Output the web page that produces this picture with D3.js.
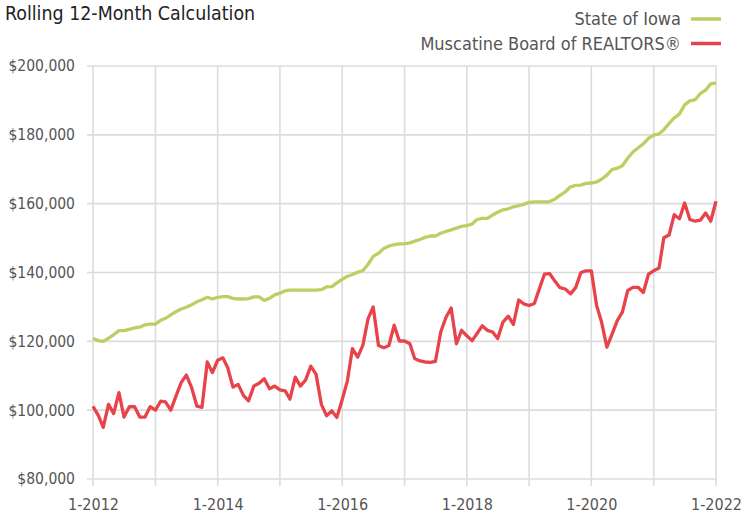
<!DOCTYPE html>
<html>
<head>
<meta charset="utf-8">
<script src="https://cdn.jsdelivr.net/npm/d3@7"></script>
<style>
  body { margin: 0; background: #fff; }
  svg text { font-family: "Liberation Sans Narrow", "Arial Narrow", "DejaVu Sans Condensed", sans-serif; font-stretch: condensed; }
</style>
</head>
<body>
<div id="chart"></div>
<script>
// monthly rolling 12-month values, 1-2012 .. 1-2022 (thousands of dollars)
const iowa = [
  120.8, 120.2, 120.0, 120.9, 121.9, 123.1, 123.1, 123.5, 123.9, 124.1, 124.8, 125.0,
  125.0, 126.1, 126.7, 127.7, 128.6, 129.4, 129.9, 130.6, 131.5, 132.1, 132.8, 132.3,
  132.8, 133.0, 133.0, 132.5, 132.3, 132.3, 132.4, 132.9, 132.9, 131.9, 132.5, 133.5,
  134.0, 134.7, 134.9, 134.9, 134.9, 134.9, 134.9, 134.9, 135.0, 135.8, 135.9, 137.0,
  138.0, 138.9, 139.4, 140.1, 140.5, 142.4, 144.7, 145.6, 147.0, 147.7, 148.1, 148.3,
  148.3, 148.6, 149.1, 149.6, 150.2, 150.6, 150.6, 151.4, 151.9, 152.4, 152.9, 153.4,
  153.6, 154.1, 155.4, 155.7, 155.7, 156.7, 157.5, 158.2, 158.5, 159.1, 159.4, 159.8,
  160.4, 160.5, 160.5, 160.5, 160.6, 161.3, 162.4, 163.4, 164.9, 165.3, 165.4, 165.9,
  166.0, 166.3, 167.1, 168.3, 169.9, 170.3, 171.0, 173.2, 175.0, 176.2, 177.4, 179.0,
  179.9, 180.3, 181.5, 183.3, 184.9, 186.1, 188.7, 189.9, 190.2, 192.0, 193.0, 194.8,
  195.1
];
const muscatine = [
  101.1, 98.5, 95.0, 101.7, 99.0, 105.1, 98.0, 101.0, 101.0, 98.0, 98.0, 101.0,
  100.0, 102.6, 102.4, 100.0, 104.0, 108.0, 110.2, 106.6, 101.2, 100.8, 114.0, 110.9,
  114.5, 115.2, 112.3, 106.7, 107.5, 104.3, 102.7, 107.0, 107.8, 109.1, 106.2, 107.0,
  105.9, 105.6, 103.2, 109.6, 107.0, 108.8, 112.8, 110.4, 101.7, 98.4, 99.8, 97.9,
  103.0, 108.6, 117.9, 115.4, 118.8, 126.6, 130.0, 118.8, 118.1, 118.8, 124.7, 120.1,
  120.1, 119.3, 115.0, 114.3, 114.0, 113.9, 114.2, 122.7, 127.0, 129.7, 119.3, 123.2,
  121.6, 120.2, 122.2, 124.5, 123.2, 122.7, 120.8, 125.6, 127.3, 124.9, 132.0, 130.9,
  130.4, 131.0, 135.1, 139.5, 139.7, 137.5, 135.6, 135.2, 133.8, 135.6, 140.0, 140.5,
  140.5, 130.4, 125.6, 118.3, 122.0, 126.0, 128.5, 134.7, 135.7, 135.7, 134.2, 139.5,
  140.5, 141.3, 150.1, 150.9, 156.8, 155.6, 160.2, 155.4, 154.9, 155.2, 157.3, 154.9,
  160.7
];
const seriesNames = ["State of Iowa", "Muscatine Board of REALTORS®"];
const seriesColors = ["#b9d162", "#e8434b"];
const yTicks = [80000, 100000, 120000, 140000, 160000, 180000, 200000];
const gridYears = [2012, 2013, 2014, 2015, 2016, 2017, 2018, 2019, 2020, 2021, 2022];
const labelYears = [2012, 2014, 2016, 2018, 2020, 2022];

const width = 741, height = 515;
const margin = {top: 66, right: 25, bottom: 36, left: 93};

const svg = d3.select("#chart").append("svg")
    .attr("width", width)
    .attr("height", height);

const start = new Date(2012, 0, 1);
const dates = iowa.map((d, i) => d3.timeMonth.offset(start, i));

const x = d3.scaleTime()
    .domain([new Date(2012, 0, 1), new Date(2022, 0, 1)])
    .range([margin.left, width - margin.right]);

const y = d3.scaleLinear()
    .domain([80000, 200000])
    .range([height - margin.bottom, margin.top]);

// grid
const gridColor = "#dcdcdc";
svg.append("g")
    .selectAll("line")
    .data(yTicks)
    .join("line")
    .attr("x1", margin.left - 6)
    .attr("x2", width - margin.right)
    .attr("y1", d => y(d))
    .attr("y2", d => y(d))
    .attr("stroke", gridColor)
    .attr("stroke-width", 1.6);

svg.append("g")
    .selectAll("line")
    .data(gridYears)
    .join("line")
    .attr("x1", d => x(new Date(d, 0, 1)))
    .attr("x2", d => x(new Date(d, 0, 1)))
    .attr("y1", margin.top)
    .attr("y2", height - margin.bottom + 7)
    .attr("stroke", gridColor)
    .attr("stroke-width", 1.6);

// y labels
const yAxis = d3.axisLeft(y)
    .tickValues(yTicks)
    .tickFormat(d => "$" + d3.format(",")(d))
    .tickSize(0)
    .tickPadding(18);

svg.append("g")
    .attr("transform", `translate(${margin.left},0)`)
    .call(yAxis)
    .call(g => g.select(".domain").remove())
    .selectAll("text")
    .attr("font-size", 15.5)
    .attr("fill", "#555");

// x labels
const xAxis = d3.axisBottom(x)
    .tickValues(labelYears.map(d => new Date(d, 0, 1)))
    .tickFormat(d => "1-" + d.getFullYear())
    .tickSize(0)
    .tickPadding(20);

svg.append("g")
    .attr("transform", `translate(0,${height - margin.bottom})`)
    .call(xAxis)
    .call(g => g.select(".domain").remove())
    .selectAll("text")
    .attr("font-size", 16)
    .attr("fill", "#555");

// lines
const line = d3.line()
    .x((d, i) => x(dates[i]))
    .y(d => y(d * 1000));

[iowa, muscatine].forEach((s, k) => {
    svg.append("path")
        .datum(s)
        .attr("fill", "none")
        .attr("stroke", seriesColors[k])
        .attr("stroke-width", 3.3)
        .attr("stroke-linejoin", "round")
        .attr("d", line);
});

// title
svg.append("text")
    .attr("x", 5)
    .attr("y", 20)
    .attr("font-size", 19.4)
    .attr("fill", "#222")
    .text("Rolling 12-Month Calculation");

// legend
const legend = svg.append("g");
seriesNames.forEach((name, k) => {
    const ly = 19 + k * 24.5;
    legend.append("text")
        .attr("x", 681)
        .attr("y", ly + 6)
        .attr("text-anchor", "end")
        .attr("font-size", 18)
        .attr("fill", "#555")
        .text(name);
    legend.append("line")
        .attr("x1", 691)
        .attr("x2", 721)
        .attr("y1", ly)
        .attr("y2", ly)
        .attr("stroke", seriesColors[k])
        .attr("stroke-width", 3.5);
});
</script>
</body>
</html>
